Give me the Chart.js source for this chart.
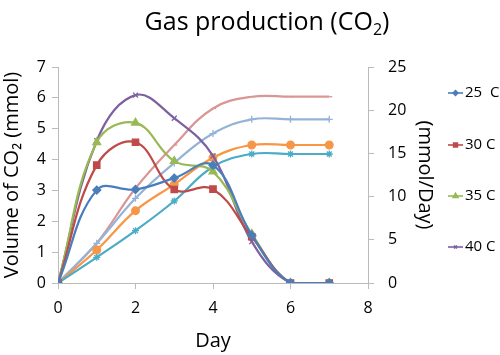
<!DOCTYPE html>
<html><head><meta charset="utf-8">
<script src="https://cdn.jsdelivr.net/npm/chart.js@4/dist/chart.umd.min.js"></script>
<style>html,body{margin:0;padding:0;background:#fff}#wrap{width:500px;height:355px}</style>
</head><body><div id="wrap"><canvas id="c" width="500" height="355"></canvas></div>
<script>
const days = [0, 1, 2, 3, 4, 5, 6, 7];
const seriesNames = ['25  C', '30 C', '35 C', '40 C'];
// daily values (left axis)
const rate25 = [0, 3.01, 3.03, 3.40, 3.82, 1.55, 0, 0];
const rate30 = [0, 3.82, 4.56, 3.03, 3.04, 1.50, 0, 0];
const rate35 = [0, 4.56, 5.19, 3.95, 3.61, 1.59, 0, 0];
const rate40 = [0, 4.61, 6.09, 5.34, 4.12, 1.34, 0, 0];
// cumulative values (right axis)
const cum25 = [0, 2.97, 6.06, 9.49, 13.46, 14.93, 14.93, 14.93];
const cum30 = [0, 3.82, 8.37, 11.42, 14.50, 15.97, 15.97, 15.97];
const cum35 = [0, 4.59, 9.80, 13.90, 17.30, 18.94, 18.94, 18.94];
const cum40 = [0, 4.62, 10.96, 15.97, 20.20, 21.56, 21.56, 21.56];
const xTicks = [0, 2, 4, 6, 8];
const leftTicks = [0, 1, 2, 3, 4, 5, 6, 7];
const rightTicks = [0, 5, 10, 15, 20, 25];

const FONT = "'Open Sans', 'Noto Sans', 'DejaVu Sans', sans-serif";
const AXIS = '#BBBBBB';

function pts(vals) { return days.map((d, i) => ({x: d, y: vals[i]})); }
function ds(label, vals, color, style, radius, axis, inLegend) {
  return {
    label, data: pts(vals), yAxisID: axis,
    borderColor: color, backgroundColor: color,
    pointStyle: style, pointRadius: radius, pointHoverRadius: radius,
    pointBorderColor: color, pointBackgroundColor: color, pointBorderWidth: 1.3,
    borderWidth: 2.2, tension: 0.4, fill: false, inLegend
  };
}

const datasets = [
  ds(seriesNames[0], rate25, '#4A7EBB', 'rectRot', 4, 'y', true),
  ds(seriesNames[1], rate30, '#BE4B48', 'rect', 4.5, 'y', true),
  ds(seriesNames[2], rate35, '#98B954', 'triangle', 4.5, 'y', true),
  ds(seriesNames[3], rate40, '#7D60A0', 'crossRot', 3.5, 'y', true),
  ds('cum ' + seriesNames[0], cum25, '#4BACC6', 'star', 3.5, 'y1', false),
  ds('cum ' + seriesNames[1], cum30, '#F79646', 'circle', 3.8, 'y1', false),
  ds('cum ' + seriesNames[2], cum35, '#95B3D7', 'cross', 3.5, 'y1', false),
  ds('cum ' + seriesNames[3], cum40, '#D99694', 'dash', 3, 'y1', false)
];

const titlePlugin = {
  id: 'mainTitle',
  afterDraw(chart) {
    const ctx = chart.ctx;
    ctx.save();
    ctx.fillStyle = '#000';
    ctx.textBaseline = 'alphabetic';
    const big = '25px ' + FONT, small = '16px ' + FONT;
    const a = 'Gas production (CO', b = '2', c = ')';
    ctx.font = big; const wa = ctx.measureText(a).width, wc = ctx.measureText(c).width;
    ctx.font = small; const wb = ctx.measureText(b).width;
    const total = wa + wb + wc;
    let x = 267 - total / 2; const y = 30;
    ctx.textAlign = 'left';
    ctx.font = big; ctx.fillText(a, x, y); x += wa;
    ctx.font = small; ctx.fillText(b, x, y + 5); x += wb;
    ctx.font = big; ctx.fillText(c, x, y);
    ctx.restore();
  }
};

const legendPlugin = {
  id: 'sideLegend',
  afterDraw(chart) {
    const ctx = chart.ctx;
    const ys = [93, 145, 196, 247];
    let k = 0;
    chart.data.datasets.forEach(d => {
      if (!d.inLegend) return;
      const y = ys[k++];
      ctx.save();
      ctx.strokeStyle = d.borderColor; ctx.lineWidth = 1.6;
      ctx.beginPath(); ctx.moveTo(448, y); ctx.lineTo(463, y); ctx.stroke();
      ctx.fillStyle = d.borderColor;
      Chart.helpers.drawPoint(ctx, {pointStyle: d.pointStyle, radius: d.pointRadius * 0.6, rotation: 0, borderWidth: 1}, 455.5, y);
      ctx.fillStyle = '#000';
      ctx.font = '15px ' + FONT;
      ctx.textAlign = 'left'; ctx.textBaseline = 'middle';
      ctx.fillText(d.label, 465, y);
      ctx.restore();
    });
  }
};

new Chart(document.getElementById('c'), {
  type: 'line',
  data: {datasets},
  options: {
    responsive: false, animation: false, devicePixelRatio: 1,
    layout: {padding: {top: 67, right: 59, bottom: 0, left: 0}},
    plugins: {legend: {display: false}, title: {display: false}, tooltip: {enabled: false}},
    scales: {
      x: {
        type: 'linear', min: 0, max: 8,
        afterFit(s) { s.height = 72; },
        afterBuildTicks(s) { s.ticks = xTicks.map(v => ({value: v})); },
        grid: {display: true, drawOnChartArea: false, drawTicks: true, tickLength: 6, color: AXIS},
        border: {display: true, color: AXIS, width: 1},
        ticks: {color: '#000', font: {family: FONT, size: 16}, padding: 10, maxRotation: 0},
        title: {display: true, text: 'Day', color: '#000', font: {family: FONT, size: 20}, padding: {top: 2, bottom: 2}}
      },
      y: {
        type: 'linear', position: 'left', min: 0, max: 7,
        afterFit(s) { s.width = 58; },
        afterBuildTicks(s) { s.ticks = leftTicks.map(v => ({value: v})); },
        grid: {display: true, drawOnChartArea: false, drawTicks: true, tickLength: 6, color: AXIS},
        border: {display: true, color: AXIS, width: 1},
        ticks: {color: '#000', font: {family: FONT, size: 16}, padding: 6},
        title: {display: true, text: 'Volume of CO₂ (mmol)', color: '#000', font: {family: FONT, size: 20}, padding: {top: 0, bottom: 0}}
      },
      y1: {
        type: 'linear', position: 'right', min: 0, max: 25,
        afterFit(s) { s.width = 73; },
        afterBuildTicks(s) { s.ticks = rightTicks.map(v => ({value: v})); },
        grid: {display: true, drawOnChartArea: false, drawTicks: true, tickLength: 6, color: AXIS},
        border: {display: true, color: AXIS, width: 1},
        ticks: {color: '#000', font: {family: FONT, size: 16}, padding: 14},
        title: {display: true, text: '(mmol/Day)', color: '#000', font: {family: FONT, size: 20}, padding: {top: 4, bottom: 4}}
      }
    }
  },
  plugins: [titlePlugin, legendPlugin]
});
</script>
</body></html>
